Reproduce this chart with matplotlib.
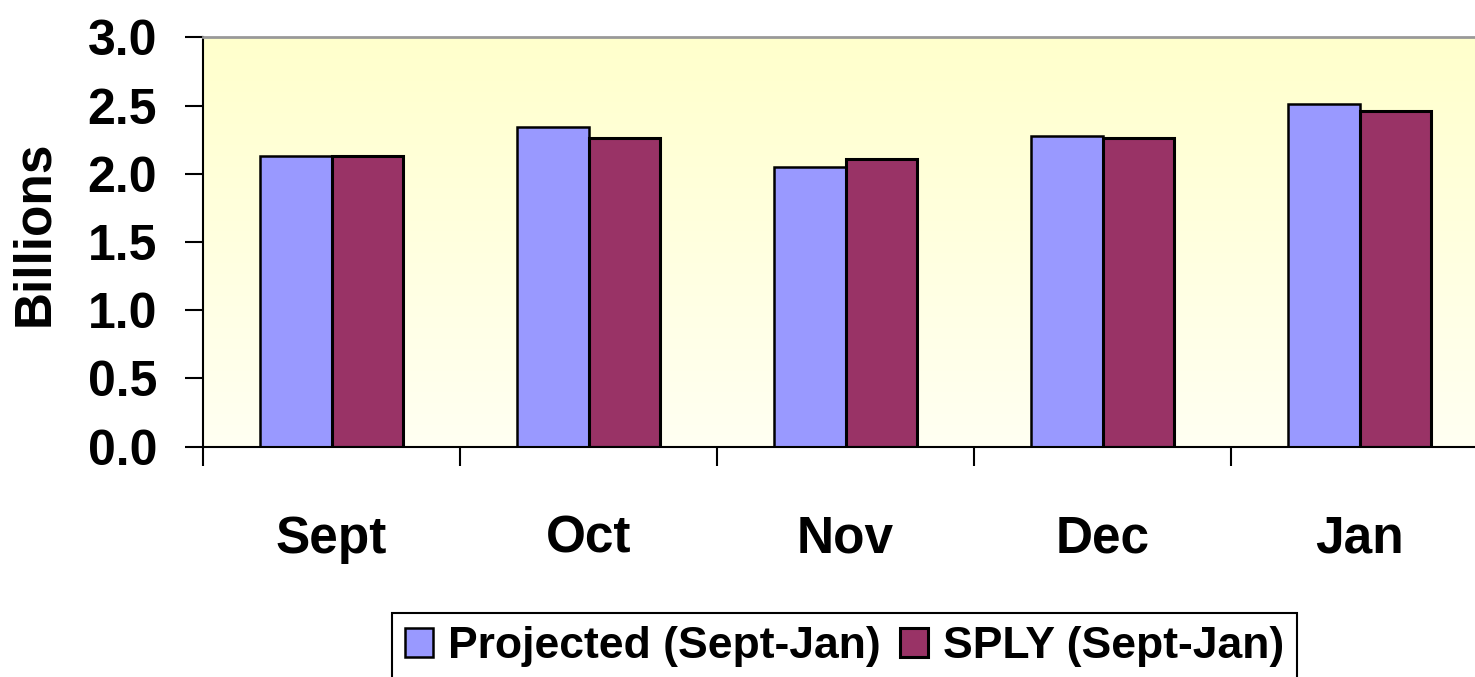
#!/usr/bin/env python3
# grafico de barras: proyectado vs SPLY (sept-jan)

import numpy as np
import matplotlib
matplotlib.use("Agg")
import matplotlib.pyplot as plt

# datos (billones)
meses = ['Sept', 'Oct', 'Nov', 'Dec', 'Jan']
proyectado = [2.13, 2.34, 2.05, 2.28, 2.51]
sply = [2.13, 2.26, 2.11, 2.26, 2.46]
series = ['Projected (Sept-Jan)', 'SPLY (Sept-Jan)']
yticks = [0.0, 0.5, 1.0, 1.5, 2.0, 2.5, 3.0]

plt.rcParams['font.family'] = ['Liberation Sans', 'DejaVu Sans']
plt.rcParams['font.weight'] = 'bold'

fig = plt.figure(figsize=(14.75, 6.77), dpi=100)
ax = fig.add_axes([203/1475, 1 - 446.7/677, 1285/1475, 409.4/677])

# fondo amarillo degradado
grad = np.linspace(0, 1, 256).reshape(-1, 1)
cmap = matplotlib.colors.LinearSegmentedColormap.from_list('fondo', ['#FFFFCC', '#FFFFF2'])
ax.imshow(grad, cmap=cmap, extent=[0, 1, 0, 1], transform=ax.transAxes,
          aspect='auto', zorder=0, interpolation='bilinear')

x = np.arange(len(meses))
w = 0.28
ax.bar(x - w/2, proyectado, w, color='#9999FF', edgecolor='black', linewidth=1.8,
       label=series[0], zorder=2)
ax.bar(x + w/2, sply, w, color='#993366', edgecolor='black', linewidth=2.2,
       label=series[1], zorder=2)

ax.set_xlim(-0.5, len(meses) - 0.5)
ax.set_ylim(0, 3.0)
ax.set_yticks(yticks)
ax.set_yticklabels([f"{v:.1f}" for v in yticks], fontsize=36, fontweight='bold')
ax.tick_params(axis='y', direction='out', length=13, width=1.5, pad=20)

ax.set_xticks(x)
ax.set_xticklabels(meses, fontsize=37, fontweight='bold')
ax.tick_params(axis='x', which='major', length=0, pad=49)
ax.set_xticks(np.arange(len(meses)) - 0.5, minor=True)
ax.tick_params(axis='x', which='minor', direction='out', length=14, width=1.5)

for s in ['left', 'bottom']:
    ax.spines[s].set_linewidth(1.5)
    ax.spines[s].set_color('black')
ax.spines['top'].set_color('#999999')
ax.spines['top'].set_linewidth(2)
ax.spines['right'].set_visible(False)

fig.text(35/1475, 1 - 233/677, 'Billions', rotation=90, ha='center', va='center',
         fontsize=37, fontweight='bold')

leg = fig.legend(loc='upper left', bbox_to_anchor=(392/1475, 1 - 613/677),
                 ncol=2, fontsize=32, frameon=True, fancybox=False,
                 handlelength=0.62, handleheight=0.62, handletextpad=0.33,
                 columnspacing=0.45, borderpad=0.3, borderaxespad=0)
leg.get_frame().set_edgecolor('black')
leg.get_frame().set_linewidth(1.5)
leg.get_frame().set_alpha(None)
for t in leg.get_texts():
    t.set_fontweight('bold')

fig.savefig('out.png', dpi=100)
